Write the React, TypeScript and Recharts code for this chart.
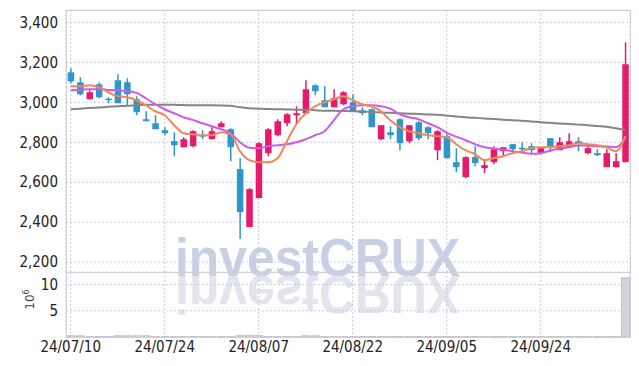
import { ComposedChart, Bar, Line, XAxis, YAxis, CartesianGrid } from 'recharts';

const dates = [
  '24/07/10', '24/07/11', '24/07/12', '24/07/15', '24/07/16', '24/07/17', '24/07/18', '24/07/19', '24/07/22', '24/07/23',
  '24/07/24', '24/07/25', '24/07/26', '24/07/29', '24/07/30', '24/07/31', '24/08/01', '24/08/02', '24/08/05', '24/08/06',
  '24/08/07', '24/08/08', '24/08/09', '24/08/12', '24/08/13', '24/08/14', '24/08/16', '24/08/19', '24/08/20', '24/08/21',
  '24/08/22', '24/08/23', '24/08/26', '24/08/27', '24/08/28', '24/08/29', '24/08/30', '24/09/02', '24/09/03', '24/09/04',
  '24/09/05', '24/09/06', '24/09/09', '24/09/10', '24/09/11', '24/09/12', '24/09/13', '24/09/19', '24/09/20', '24/09/23',
  '24/09/24', '24/09/25', '24/09/26', '24/09/27', '24/09/30', '24/10/02', '24/10/04', '24/10/07', '24/10/08', '24/10/10'
];

const opens = [
  3150, 3100, 3015, 3090, 3018, 3110, 3100, 3015, 2915, 2895,
  2860, 2805, 2775, 2780, 2835, 2815, 2875, 2865, 2665, 2375,
  2520, 2745, 2835, 2895, 2935, 2945, 3085, 3010, 2975, 2990,
  3000, 2960, 2965, 2815, 2850, 2915, 2805, 2900, 2875, 2760,
  2830, 2700, 2625, 2725, 2670, 2700, 2755, 2790, 2772, 2780,
  2745, 2820, 2760, 2775, 2805, 2745, 2745, 2675, 2675, 2700
];
const closes = [
  3105, 3040, 3050, 3025, 3012, 2995, 3040, 2950, 2905, 2865,
  2845, 2785, 2815, 2855, 2830, 2855, 2895, 2775, 2450, 2565,
  2795, 2865, 2905, 2940, 2945, 3065, 3055, 2975, 3020, 3050,
  2955, 2945, 2875, 2885, 2835, 2795, 2885, 2820, 2845, 2855,
  2720, 2675, 2725, 2695, 2685, 2765, 2775, 2765, 2768, 2760,
  2770, 2780, 2800, 2805, 2795, 2770, 2735, 2745, 2705, 3190
];
const highs = [
  3170, 3125, 3060, 3100, 3025, 3140, 3120, 3030, 2955, 2935,
  2875, 2850, 2825, 2860, 2860, 2875, 2905, 2870, 2720, 2570,
  2800, 2870, 2915, 2945, 2980, 3110, 3090, 3080, 3065, 3055,
  3040, 2975, 2970, 2885, 2880, 2920, 2885, 2905, 2880, 2860,
  2850, 2770, 2730, 2780, 2715, 2780, 2775, 2790, 2800, 2795,
  2770, 2820, 2825, 2845, 2825, 2785, 2765, 2765, 2745, 3300
];
const lows = [
  3095, 3035, 3015, 3020, 2995, 2995, 2980, 2935, 2905, 2865,
  2835, 2730, 2775, 2775, 2815, 2815, 2875, 2705, 2315, 2375,
  2520, 2730, 2830, 2880, 2890, 2945, 3035, 2975, 2975, 2985,
  2955, 2935, 2875, 2810, 2815, 2760, 2795, 2810, 2815, 2710,
  2720, 2650, 2620, 2680, 2645, 2690, 2725, 2750, 2750, 2745,
  2740, 2750, 2760, 2775, 2755, 2740, 2730, 2675, 2675, 2700
];

// moving averages
const ma5 = [
  3080, 3080, 3085, 3075, 3050, 3030, 3025, 3010, 2985, 2955,
  2935, 2885, 2845, 2840, 2835, 2835, 2850, 2840, 2755, 2710,
  2700, 2700, 2720, 2805, 2890, 2945, 2980, 3000, 3015, 3030,
  3010, 2990, 2980, 2955, 2910, 2875, 2855, 2845, 2835, 2830,
  2825, 2790, 2760, 2740, 2710, 2720, 2730, 2745, 2755, 2770,
  2775, 2775, 2780, 2785, 2795, 2790, 2785, 2775, 2755, 2830
];
const ma20 = [
  3060, 3063, 3065, 3065, 3062, 3060, 3055, 3047, 3020, 2990,
  2965, 2945, 2925, 2912, 2895, 2880, 2865, 2845, 2800, 2772,
  2770, 2780, 2785, 2790, 2800, 2815, 2835, 2855, 2910, 2965,
  2980, 2985, 2985, 2980, 2968, 2940, 2925, 2915, 2895, 2875,
  2848, 2828, 2810, 2790, 2775, 2768, 2763, 2755, 2748, 2742,
  2745, 2758, 2768, 2775, 2783, 2783, 2780, 2778, 2775, 2820
];
const ma60 = [
  2965, 2968, 2971, 2974, 2977, 2980, 2983, 2985, 2987, 2988,
  2988, 2987, 2986, 2985, 2985, 2985, 2984, 2982, 2975, 2970,
  2968, 2966, 2965, 2964, 2963, 2962, 2960, 2958, 2957, 2956,
  2955, 2953, 2951, 2949, 2947, 2945, 2943, 2941, 2939, 2937,
  2933, 2929, 2925, 2922, 2919, 2916, 2913, 2910, 2907, 2904,
  2900, 2897, 2894, 2891, 2888, 2885, 2881, 2877, 2870, 2862
];

// volume in millions of shares
const volumes = [
  0.25, 0.25, 0.1, 0.1, 0.1, 0.25, 0.25, 0.25, 0.25, 0.1,
  0.1, 0.1, 0.1, 0.1, 0.1, 0.1, 0.1, 0.1, 0.3, 0.3,
  0.3, 0.1, 0.1, 0.1, 0.1, 0.25, 0.25, 0.1, 0.1, 0.1,
  0.1, 0.1, 0.1, 0.1, 0.1, 0.1, 0.1, 0.1, 0.1, 0.1,
  0.1, 0.1, 0.1, 0.1, 0.1, 0.1, 0.1, 0.1, 0.1, 0.1,
  0.1, 0.1, 0.1, 0.1, 0.1, 0.1, 0.1, 0.1, 0.1, 11.3
];

const priceTicks = [2200, 2400, 2600, 2800, 3000, 3200, 3400];
const volumeTicks = [5, 10];

const UP = '#e6196b';
const DOWN = '#2e96c8';
const GRID = '#c6cade';
const BORDER = '#cdd0da';
const FONT = '"Liberation Sans Narrow", "DejaVu Sans Condensed", sans-serif';

const data = dates.map((date, i) => ({
  date,
  open: opens[i],
  close: closes[i],
  high: highs[i],
  low: lows[i],
  range: [lows[i], highs[i]],
  ma5: ma5[i],
  ma20: ma20[i],
  ma60: ma60[i],
  volume: volumes[i]
}));

const Candle = (props: any) => {
  const { x, y, width, height, payload } = props;
  if (!payload) return null;
  const { open, close, high, low } = payload;
  const ratio = height / (high - low);
  const color = close >= open ? UP : DOWN;
  const cx = x + width / 2;
  const top = y + (high - Math.max(open, close)) * ratio;
  const bh = Math.max(Math.abs(open - close) * ratio, 1.5);
  const bw = 6.5;
  return (
    <g>
      <line x1={cx} x2={cx} y1={y} y2={y + height} stroke={color} strokeWidth={1.5} />
      <rect x={cx - bw / 2} y={top} width={bw} height={bh} fill={color} />
    </g>
  );
};

const tickStyle = { fill: '#222', fontSize: 15, fontFamily: FONT };

export default function App() {
  return (
    <div style={{ position: 'fixed', left: 0, top: 0, width: 639, height: 366, background: '#fff' }}>
      <svg width={639} height={366} style={{ position: 'absolute', left: 0, top: 0 }}>
        <text
          x={175}
          y={276}
          fontSize={54}
          fontWeight="bold"
          fontFamily="Liberation Sans, Arial, sans-serif"
          textLength={285}
          lengthAdjust="spacingAndGlyphs"
          fill="#c9cfe5"
        >
          investCRUX
        </text>
        <text
          x={175}
          y={276}
          fontSize={54}
          fontWeight="bold"
          fontFamily="Liberation Sans, Arial, sans-serif"
          textLength={285}
          lengthAdjust="spacingAndGlyphs"
          fill="#e3e4ee"
          transform="translate(0 552) scale(1 -1)"
        >
          investCRUX
        </text>
      </svg>

      <div style={{ position: 'absolute', left: 0, top: 0 }}>
        <ComposedChart width={639} height={272} data={data} margin={{ top: 10, right: 9, left: 0, bottom: 0 }}>
          <CartesianGrid stroke={GRID} strokeDasharray="2 2" />
          <XAxis dataKey="date" hide interval={9} />
          <YAxis
            domain={[2150, 3462]}
            ticks={priceTicks}
            width={66}
            axisLine={false}
            tickLine={false}
            tick={tickStyle}
            tickFormatter={(v) => v.toLocaleString('en-US')}
          />
          <Bar dataKey="range" shape={Candle} isAnimationActive={false} />
          <Line type="monotone" dataKey="ma60" stroke="#858585" strokeWidth={2} dot={false} isAnimationActive={false} />
          <Line type="monotone" dataKey="ma20" stroke="#cc5ce8" strokeWidth={2} dot={false} isAnimationActive={false} />
          <Line type="monotone" dataKey="ma5" stroke="#ef8757" strokeWidth={2} dot={false} isAnimationActive={false} />
        </ComposedChart>
      </div>

      <div style={{ position: 'absolute', left: 0, top: 272 }}>
        <ComposedChart width={639} height={94} data={data} margin={{ top: 0, right: 9, left: 0, bottom: 0 }}>
          <CartesianGrid stroke={GRID} strokeDasharray="2 2" />
          <XAxis
            dataKey="date"
            interval={9}
            height={29}
            axisLine={false}
            tickLine={false}
            tickSize={2}
            tickMargin={2}
            tick={tickStyle}
          />
          <YAxis
            domain={[0, 12.4]}
            ticks={volumeTicks}
            width={66}
            axisLine={false}
            tickLine={false}
            tick={tickStyle}
          />
          <Bar dataKey="volume" fill="#d3d3da" stroke="#c4c4cc" isAnimationActive={false} />
        </ComposedChart>
      </div>

      <div style={{ position: 'absolute', left: 66, top: 10, width: 563, height: 261, border: `1px solid ${BORDER}`, pointerEvents: 'none' }} />
      <div style={{ position: 'absolute', left: 66, top: 272, width: 563, height: 64, border: `1px solid ${BORDER}`, pointerEvents: 'none' }} />

      <div
        style={{
          position: 'absolute',
          left: 14,
          top: 292,
          width: 30,
          textAlign: 'center',
          transform: 'rotate(-90deg)',
          fontFamily: '"DejaVu Sans", sans-serif',
          fontSize: 12,
          color: '#444'
        }}
      >
        10<sup style={{ fontSize: 8 }}>6</sup>
      </div>
    </div>
  );
}
